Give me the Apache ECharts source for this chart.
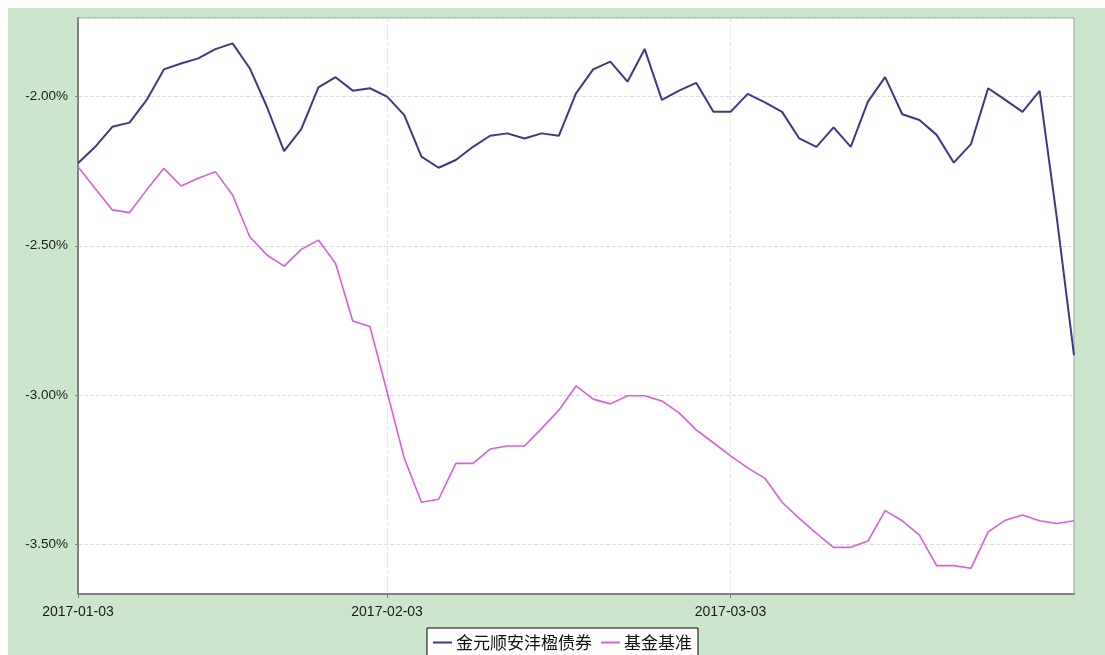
<!DOCTYPE html>
<html>
<head>
<meta charset="utf-8">
<script src="https://cdn.jsdelivr.net/npm/echarts@6/dist/echarts.min.js"></script>
<style>
html,body{margin:0;padding:0;background:#ffffff;width:1105px;height:655px;overflow:hidden;}
#chart{position:absolute;left:8px;top:8px;width:1097px;height:647px;}
</style>
</head>
<body>
<div id="chart"></div>
<script>
// Trading days, 2017-01-03 .. 2017-03-31
const dates = [
  '2017-01-03','2017-01-04','2017-01-05','2017-01-06','2017-01-09','2017-01-10','2017-01-11','2017-01-12','2017-01-13',
  '2017-01-16','2017-01-17','2017-01-18','2017-01-19','2017-01-20','2017-01-23','2017-01-24','2017-01-25','2017-01-26',
  '2017-02-03','2017-02-06','2017-02-07','2017-02-08','2017-02-09','2017-02-10','2017-02-13','2017-02-14','2017-02-15',
  '2017-02-16','2017-02-17','2017-02-20','2017-02-21','2017-02-22','2017-02-23','2017-02-24','2017-02-27','2017-02-28',
  '2017-03-01','2017-03-02','2017-03-03','2017-03-06','2017-03-07','2017-03-08','2017-03-09','2017-03-10','2017-03-13',
  '2017-03-14','2017-03-15','2017-03-16','2017-03-17','2017-03-20','2017-03-21','2017-03-22','2017-03-23','2017-03-24',
  '2017-03-27','2017-03-28','2017-03-29','2017-03-30','2017-03-31'
];
// Labelled dates on the x axis
const tickDates = ['2017-01-03','2017-02-03','2017-03-03'];
// Series names
const fundName = '金元顺安沣楹债券';
const benchName = '基金基准';
// Cumulative return (%)
const fundValues = [
  -2.224,-2.169,-2.102,-2.088,-2.012,-1.910,-1.890,-1.873,-1.842,-1.823,
  -1.906,-2.035,-2.183,-2.110,-1.970,-1.936,-1.981,-1.973,-2.001,-2.063,
  -2.202,-2.239,-2.213,-2.169,-2.132,-2.124,-2.141,-2.124,-2.132,-1.990,
  -1.910,-1.884,-1.951,-1.842,-2.012,-1.981,-1.955,-2.052,-2.052,-1.992,
  -2.020,-2.052,-2.141,-2.169,-2.104,-2.169,-2.018,-1.936,-2.060,-2.079,
  -2.129,-2.222,-2.160,-1.973,-2.012,-2.052,-1.982,-2.407,-2.866
];
const benchValues = [
  -2.236,-2.308,-2.380,-2.389,-2.313,-2.241,-2.300,-2.274,-2.252,-2.330,
  -2.470,-2.531,-2.568,-2.512,-2.481,-2.559,-2.752,-2.770,-2.989,-3.211,
  -3.358,-3.348,-3.228,-3.228,-3.180,-3.170,-3.170,-3.111,-3.050,-2.969,
  -3.013,-3.029,-3.002,-3.002,-3.019,-3.059,-3.116,-3.159,-3.203,-3.243,
  -3.278,-3.358,-3.412,-3.462,-3.509,-3.509,-3.488,-3.386,-3.420,-3.468,
  -3.570,-3.570,-3.579,-3.457,-3.418,-3.401,-3.420,-3.429,-3.420
];
// Y axis range (%)
const yMin = -3.665;
const yMax = -1.738;

const chart = echarts.init(document.getElementById('chart'), null, {renderer:'canvas'});
const showTick = (idx, val) => tickDates.indexOf(val) >= 0 || tickDates.indexOf(dates[idx]) >= 0;
const font = "'Liberation Sans', Arial, 'Noto Sans CJK SC', sans-serif";

chart.setOption({
  backgroundColor: '#cbe6cc',
  animation: false,
  textStyle: {fontFamily: font},
  grid: {
    left: 70, top: 10, right: 31, bottom: 61,
    show: true, backgroundColor: '#ffffff', borderColor: '#a0a0a0', borderWidth: 1,
    containLabel: false
  },
  legend: {
    left: 419, top: 620,
    data: [fundName, benchName],
    icon: 'rect', itemWidth: 19, itemHeight: 2, itemGap: 9,
    padding: [6, 6, 8, 6],
    backgroundColor: '#ffffff', borderColor: '#000000', borderWidth: 1,
    textStyle: {fontSize: 17, color: '#111', fontFamily: "'Noto Sans CJK SC', sans-serif", padding: [0,0,0,-1]}
  },
  xAxis: {
    type: 'category',
    data: dates,
    boundaryGap: false,
    axisLine: {lineStyle: {color: '#808080', width: 2}},
    axisTick: {show: true, interval: showTick, length: 4, lineStyle: {color: '#808080'}},
    axisLabel: {interval: showTick, fontSize: 14, color: '#1a1a1a', margin: 11, fontFamily: font},
    splitLine: {show: true, interval: showTick, lineStyle: {color: '#e4e4e4', type: 'dashed'}}
  },
  yAxis: {
    type: 'value',
    min: yMin, max: yMax,
    splitNumber: 4,
    axisLine: {show: true, lineStyle: {color: '#808080', width: 2}},
    axisTick: {show: true, length: 3, lineStyle: {color: '#808080'}},
    axisLabel: {
      fontSize: 13.5, color: '#1a1a1a', margin: 10, fontFamily: font,
      showMinLabel: false, showMaxLabel: false,
      formatter: v => {
        const r = Math.round(v * 2) / 2;
        if (Math.abs(r - v) > 1e-6) return '';
        return v.toFixed(2) + '%';
      }
    },
    splitLine: {show: true, lineStyle: {color: '#dcdcdc', type: 'dashed'}}
  },
  series: [
    {
      name: fundName, type: 'line', data: fundValues, symbol: 'none',
      lineStyle: {color: '#3a3a88', width: 2}, itemStyle: {color: '#3a3a88'}
    },
    {
      name: benchName, type: 'line', data: benchValues, symbol: 'none',
      lineStyle: {color: '#dd5ddd', width: 1.6}, itemStyle: {color: '#dd5ddd'}
    }
  ]
});
</script>
</body>
</html>
